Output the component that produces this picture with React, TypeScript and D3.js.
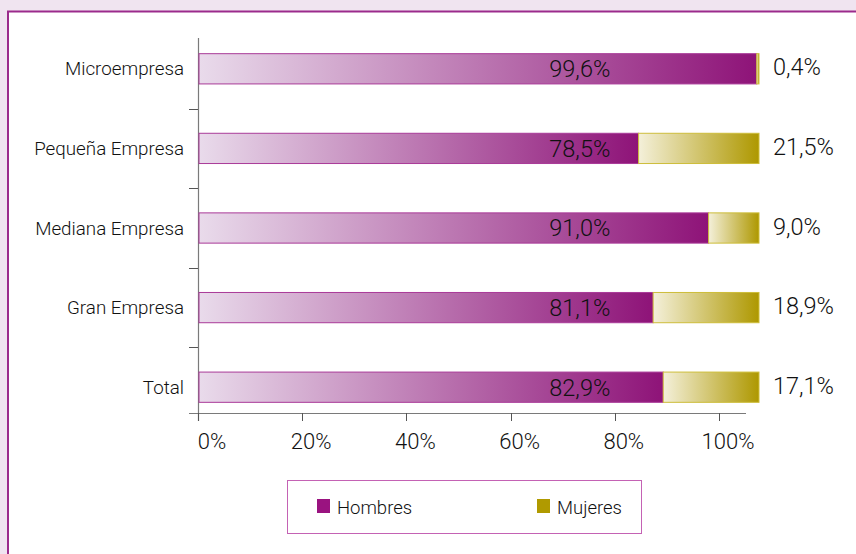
import { useEffect, useRef } from "react";
import * as d3 from "d3";

const categories = [
  "Microempresa",
  "Pequeña Empresa",
  "Mediana Empresa",
  "Gran Empresa",
  "Total",
];
const hombres = [99.6, 78.5, 91.0, 81.1, 82.9];
const mujeres = [0.4, 21.5, 9.0, 18.9, 17.1];
const tickValues = [0, 20, 40, 60, 80, 100];
const seriesNames = ["Hombres", "Mujeres"];

const W = 856;
const H = 554;
const FONT = "Roboto, 'Liberation Sans', Arial, sans-serif";
const WEIGHT = 300;
const TEXT = "#111111";

const fmt = (v: number) => v.toFixed(1).replace(".", ",") + "%";

export default function App() {
  const svgRef = useRef<SVGSVGElement | null>(null);

  useEffect(() => {
    if (!svgRef.current) return;
    const svg = d3.select(svgRef.current);
    svg.selectAll("*").remove();

    // gradients
    const defs = svg.append("defs");
    const gH = defs.append("linearGradient").attr("id", "gradH");
    gH.append("stop").attr("offset", "0%").attr("stop-color", "#e9dbeb");
    gH.append("stop").attr("offset", "100%").attr("stop-color", "#8e1378");
    const gM = defs.append("linearGradient").attr("id", "gradM");
    gM.append("stop").attr("offset", "0%").attr("stop-color", "#f4f0da");
    gM.append("stop").attr("offset", "100%").attr("stop-color", "#ae9800");

    // background + panel
    svg.append("rect").attr("width", W).attr("height", H).attr("fill", "#f0e4f0");
    svg
      .append("rect")
      .attr("x", 8)
      .attr("y", 11.5)
      .attr("width", W + 10)
      .attr("height", H + 10)
      .attr("fill", "#ffffff")
      .attr("stroke", "#9b2b8c")
      .attr("stroke-width", 2);

    // scales: bars use one range, axis ticks a slightly shorter one
    const xBar = d3.scaleLinear().domain([0, 100]).range([199, 759]);
    const xAxis = d3.scaleLinear().domain([0, 100]).range([198, 719]);
    const y = d3
      .scaleBand()
      .domain(categories)
      .range([29, 427])
      .paddingInner(0.62)
      .paddingOuter(0.31);
    const step = y.step();

    const g = svg.append("g");

    // y axis
    g.append("line")
      .attr("x1", 198.5)
      .attr("x2", 198.5)
      .attr("y1", 38)
      .attr("y2", 421)
      .attr("stroke", "#7a7a7a")
      .attr("stroke-width", 1.2);
    // category separators
    categories.slice(1).forEach((c) => {
      const yy = Math.round((y(c) || 0) - (step - y.bandwidth()) / 2) + 0.5;
      g.append("line")
        .attr("x1", 189)
        .attr("x2", 198)
        .attr("y1", yy)
        .attr("y2", yy)
        .attr("stroke", "#555")
        .attr("stroke-width", 1);
    });

    // x axis
    g.append("line")
      .attr("x1", 189)
      .attr("x2", 746)
      .attr("y1", 413.5)
      .attr("y2", 413.5)
      .attr("stroke", "#7a7a7a")
      .attr("stroke-width", 1.2);
    tickValues.forEach((t) => {
      const xx = Math.round(xAxis(t)) + 0.5;
      g.append("line")
        .attr("x1", xx)
        .attr("x2", xx)
        .attr("y1", 413)
        .attr("y2", 421)
        .attr("stroke", "#555")
        .attr("stroke-width", 1);
      g.append("text")
        .attr("x", xAxis(t) + (t === 0 ? 14 : 9))
        .attr("y", 449)
        .attr("text-anchor", "middle")
        .attr("font-family", FONT)
        .attr("font-weight", WEIGHT)
        .attr("font-size", 22)
        .attr("fill", TEXT)
        .text(`${t}%`);
    });

    // category labels
    categories.forEach((c) => {
      g.append("text")
        .attr("x", 184)
        .attr("y", (y(c) || 0) + y.bandwidth() / 2)
        .attr("dy", "0.35em")
        .attr("text-anchor", "end")
        .attr("font-family", FONT)
        .attr("font-weight", WEIGHT)
        .attr("font-size", 18.8)
        .attr("fill", TEXT)
        .text(c);
    });

    // bars
    categories.forEach((c, i) => {
      const y0 = y(c) || 0;
      const bh = y.bandwidth();
      g.append("rect")
        .attr("x", xBar(0))
        .attr("y", y0)
        .attr("width", xBar(hombres[i]) - xBar(0))
        .attr("height", bh)
        .attr("fill", "url(#gradH)")
        .attr("stroke", "#a93a98")
        .attr("stroke-width", 1);
      g.append("rect")
        .attr("x", xBar(hombres[i]))
        .attr("y", y0)
        .attr("width", xBar(100) - xBar(hombres[i]))
        .attr("height", bh)
        .attr("fill", "url(#gradM)")
        .attr("stroke", "#cdbd3a")
        .attr("stroke-width", 1);
      g.append("text")
        .attr("x", xBar(68))
        .attr("y", y0 + bh / 2)
        .attr("dy", "0.36em")
        .attr("text-anchor", "middle")
        .attr("font-family", FONT)
        .attr("font-weight", WEIGHT)
        .attr("font-size", 23.5)
        .attr("fill", TEXT)
        .text(fmt(hombres[i]));
      g.append("text")
        .attr("x", xBar(100) + 14)
        .attr("y", y0 + bh / 2)
        .attr("dy", "0.28em")
        .attr("font-family", FONT)
        .attr("font-weight", WEIGHT)
        .attr("font-size", 23.5)
        .attr("fill", TEXT)
        .text(fmt(mujeres[i]));
    });

    // legend
    const lg = svg.append("g");
    lg.append("rect")
      .attr("x", 287.5)
      .attr("y", 480.5)
      .attr("width", 354)
      .attr("height", 53)
      .attr("fill", "#fff")
      .attr("stroke", "#c462b4")
      .attr("stroke-width", 1);
    const legendX = [317, 537];
    const legendColors = ["#9a1380", "#b09a00"];
    seriesNames.forEach((s, i) => {
      lg.append("rect")
        .attr("x", legendX[i])
        .attr("y", 499)
        .attr("width", 13)
        .attr("height", 14)
        .attr("fill", legendColors[i]);
      lg.append("text")
        .attr("x", legendX[i] + 20)
        .attr("y", 507)
        .attr("dy", "0.36em")
        .attr("font-family", FONT)
        .attr("font-weight", WEIGHT)
        .attr("font-size", 18.5)
        .attr("fill", TEXT)
        .text(s);
    });
  }, []);

  return (
    <svg
      ref={svgRef}
      width={W}
      height={H}
      style={{ position: "absolute", left: 0, top: 0, display: "block" }}
    />
  );
}
